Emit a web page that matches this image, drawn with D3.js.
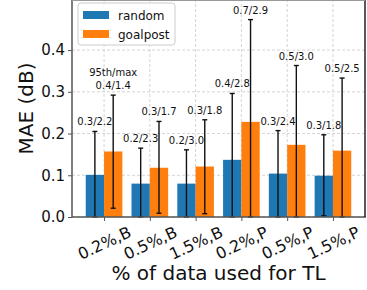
<!DOCTYPE html>
<html>
<head>
<meta charset="utf-8">
<script src="https://cdn.jsdelivr.net/npm/d3@7"></script>
<style>
  body { margin: 0; background: #fff; }
  text { font-family: "DejaVu Sans", sans-serif; fill: #111; }
</style>
</head>
<body>
<div id="chart"></div>
<script>
// data
const categories = ["0.2%,B", "0.5%,B", "1.5%,B", "0.2%,P", "0.5%,P", "1.5%,P"];
const series = ["random", "goalpost"];
const randomMean = [0.101, 0.080, 0.080, 0.137, 0.104, 0.099];
const goalpostMean = [0.157, 0.118, 0.121, 0.228, 0.173, 0.159];
const randomLow = [0.0, 0.0, 0.0, 0.0, 0.0, 0.003];
const randomHigh = [0.205, 0.165, 0.161, 0.296, 0.207, 0.197];
const goalpostLow = [0.021, 0.009, 0.008, 0.0, 0.0, 0.0];
const goalpostHigh = [0.292, 0.229, 0.233, 0.473, 0.363, 0.333];
const randomNotes = ["0.3/2.2", "0.2/2.3", "0.2/3.0", "0.4/2.8", "0.3/2.4", "0.3/1.8"];
const goalpostNotes = ["0.4/1.4", "0.3/1.7", "0.3/1.8", "0.7/2.9", "0.5/3.0", "0.5/2.5"];
const yTicks = [0.0, 0.1, 0.2, 0.3, 0.4];
const colors = ["#1f77b4", "#ff7f0e"];

const width = 367, height = 290;
const margin = { left: 72, right: 2, top: 0, bottom: 73 };
const barW = 0.4;

const svg = d3.select("#chart").append("svg")
  .attr("width", width)
  .attr("height", height);

const x = d3.scaleLinear()
  .domain([-0.7, categories.length - 0.3])
  .range([margin.left, width - margin.right]);
const y = d3.scaleLinear()
  .domain([0, 0.52])
  .range([height - margin.bottom, margin.top]);

// build one record per bar
const bars = [];
categories.forEach((c, i) => {
  bars.push({ s: 0, i: i, v: randomMean[i], lo: randomLow[i], hi: randomHigh[i], note: randomNotes[i] });
  bars.push({ s: 1, i: i, v: goalpostMean[i], lo: goalpostLow[i], hi: goalpostHigh[i], note: goalpostNotes[i] });
});
const cx = d => x(d.i + (d.s === 0 ? -barW / 2 : barW / 2));

// grid
const grid = svg.append("g");
grid.selectAll("line.h").data(yTicks).enter().append("line")
  .attr("x1", x.range()[0]).attr("x2", x.range()[1])
  .attr("y1", d => y(d)).attr("y2", d => y(d))
  .attr("stroke", "#d4d4d4").attr("stroke-dasharray", "3,2");
grid.selectAll("line.v").data(categories).enter().append("line")
  .attr("x1", (d, i) => x(i)).attr("x2", (d, i) => x(i))
  .attr("y1", y.range()[0]).attr("y2", y.range()[1])
  .attr("stroke", "#d4d4d4").attr("stroke-dasharray", "3,2");

// bars
svg.append("g").selectAll("rect").data(bars).enter().append("rect")
  .attr("x", d => cx(d) - (x(barW) - x(0)) / 2)
  .attr("width", x(barW) - x(0))
  .attr("y", d => y(d.v))
  .attr("height", d => y(0) - y(d.v))
  .attr("fill", d => colors[d.s]);

// error bars
const eb = svg.append("g").attr("stroke", "#111").attr("stroke-width", 1.4);
eb.selectAll("line.stem").data(bars).enter().append("line")
  .attr("x1", cx).attr("x2", cx)
  .attr("y1", d => y(d.lo)).attr("y2", d => y(d.hi));
eb.selectAll("line.top").data(bars).enter().append("line")
  .attr("x1", d => cx(d) - 2.5).attr("x2", d => cx(d) + 2.5)
  .attr("y1", d => y(d.hi)).attr("y2", d => y(d.hi));
eb.selectAll("line.bot").data(bars).enter().append("line")
  .attr("x1", d => cx(d) - 2.5).attr("x2", d => cx(d) + 2.5)
  .attr("y1", d => y(d.lo)).attr("y2", d => y(d.lo));

// notes above error bars
svg.append("g").selectAll("text").data(bars).enter().append("text")
  .attr("x", cx)
  .attr("y", d => y(d.hi) - 6)
  .attr("text-anchor", "middle")
  .attr("font-size", 10)
  .text(d => d.note);
svg.append("text")
  .attr("x", cx(bars[1]))
  .attr("y", y(bars[1].hi) - 19)
  .attr("text-anchor", "middle")
  .attr("font-size", 10)
  .text("95th/max");

// spines
const spine = svg.append("g").attr("stroke", "#555").attr("fill", "none");
spine.append("line")
  .attr("x1", x.range()[0]).attr("x2", x.range()[0])
  .attr("y1", y.range()[0]).attr("y2", y.range()[1]).attr("stroke-width", 1.5);
spine.append("line")
  .attr("x1", x.range()[0]).attr("x2", x.range()[1] + 1)
  .attr("y1", y.range()[0]).attr("y2", y.range()[0]).attr("stroke-width", 1.5);
spine.append("line")
  .attr("x1", x.range()[1]).attr("x2", x.range()[1])
  .attr("y1", y.range()[0]).attr("y2", y.range()[1]).attr("stroke", "#222").attr("stroke-width", 1.5);
spine.append("line")
  .attr("x1", x.range()[0]).attr("x2", x.range()[1])
  .attr("y1", 0.5).attr("y2", 0.5).attr("stroke", "#999");

// y axis
const yAxis = svg.append("g").attr("transform", `translate(${margin.left},0)`)
  .call(d3.axisLeft(y).tickValues(yTicks).tickFormat(d3.format(".1f")).tickSize(4).tickPadding(3));
yAxis.select(".domain").remove();
yAxis.selectAll("text").attr("font-size", 15).attr("font-family", "DejaVu Sans").attr("fill", "#111");
yAxis.selectAll("line").attr("stroke", "#555");

// x axis
const xAxis = svg.append("g").attr("transform", `translate(0,${y(0)})`)
  .call(d3.axisBottom(x).tickValues(d3.range(categories.length)).tickFormat(i => categories[i]).tickSize(4));
xAxis.select(".domain").remove();
xAxis.selectAll("line").attr("stroke", "#555");
xAxis.selectAll("text")
  .attr("font-size", 16).attr("font-family", "DejaVu Sans").attr("fill", "#111")
  .attr("text-anchor", "middle")
  .attr("dy", null)
  .attr("dominant-baseline", "central")
  .attr("y", 26)
  .attr("transform", "rotate(-25 0 26)");

// axis titles
svg.append("text")
  .attr("transform", `translate(33,${(y.range()[0] + y.range()[1]) / 2}) rotate(-90)`)
  .attr("text-anchor", "middle")
  .attr("font-size", 20)
  .text("MAE (dB)");
svg.append("text")
  .attr("x", (x.range()[0] + x.range()[1]) / 2)
  .attr("y", 280)
  .attr("text-anchor", "middle")
  .attr("font-size", 20)
  .text("% of data used for TL");

// legend
const legend = svg.append("g").attr("transform", "translate(78,3)");
legend.append("rect")
  .attr("width", 97).attr("height", 42).attr("rx", 3)
  .attr("fill", "#fff").attr("fill-opacity", 0.85)
  .attr("stroke", "#ccc");
series.forEach((s, k) => {
  legend.append("rect")
    .attr("x", 5).attr("y", 8 + k * 19)
    .attr("width", 26).attr("height", 8)
    .attr("fill", colors[k]);
  legend.append("text")
    .attr("x", 40).attr("y", 16.5 + k * 19)
    .attr("font-size", 12)
    .text(s);
});
</script>
</body>
</html>
